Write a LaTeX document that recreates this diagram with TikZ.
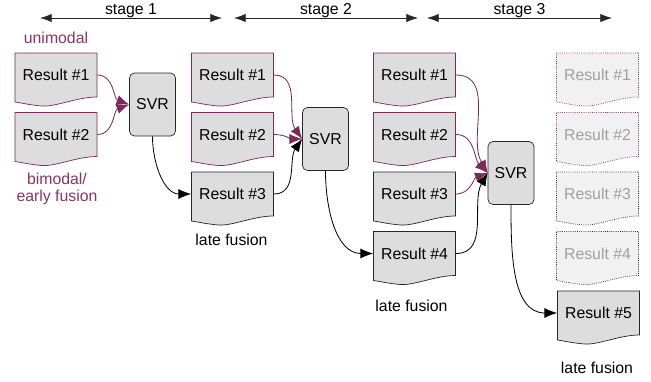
\documentclass[tikz,border=0pt]{standalone}
\usepackage{fontspec}
\setmainfont{Liberation Sans}
\usepackage{xcolor}
\usetikzlibrary{arrows.meta,calc}
\definecolor{plum}{RGB}{125,41,89}
\definecolor{plumtext}{RGB}{137,52,104}
\definecolor{docgray}{RGB}{221,221,221}
\definecolor{fadegray}{RGB}{241,241,241}
\definecolor{fadetext}{RGB}{160,160,160}
\tikzset{
  resnode/.style={minimum width=2.46cm, minimum height=1.32cm, inner sep=0pt},
  plumdoc/.style={draw=plum, fill=docgray, line width=0.6pt},
  blackdoc/.style={draw=black!85, fill=docgray, line width=0.6pt},
  fadeplum/.style={draw=plum, densely dotted, fill=fadegray, text=fadetext, line width=0.6pt},
  fadeblack/.style={draw=black!85, densely dotted, fill=fadegray, text=fadetext, line width=0.6pt}
}
% document shape with a wavy bottom: name, centre, text, look
\newcommand{\resdoc}[4]{%
  \draw[#4] ($(#2)+(-41,22)$) -- ($(#2)+(41,22)$) -- ($(#2)+(41,-22)$)
    .. controls ($(#2)+(21,-22)$) and ($(#2)+(0,-32)$) .. ($(#2)+(-14,-31)$)
    .. controls ($(#2)+(-26,-30)$) and ($(#2)+(-34,-28)$) .. ($(#2)+(-41,-27)$) -- cycle;
  \node[resnode, #4, draw=none, fill=none] (#1) at (#2) {#3};}

\begin{document}
\begin{tikzpicture}[x=0.03cm, y=0.03cm, font=\fontsize{13.5}{14.5}\selectfont,
    svrbox/.style={draw=black!85, fill=docgray, line width=0.6pt, rounded corners=0.15cm,
      minimum width=1.38cm, minimum height=1.89cm, inner sep=0pt},
    plumarrow/.style={draw=plum, line width=0.7pt, -{Latex[length=3.8mm,width=3mm]}},
    blackarrow/.style={draw=black, line width=0.7pt, -{Latex[length=3.8mm,width=3mm]}},
    stagearrow/.style={draw=black!85, line width=0.6pt, {Latex[length=3.5mm,width=2.5mm]}-{Latex[length=3.5mm,width=2.5mm]}},
    modelabel/.style={text=plumtext, align=center}]
    \useasboundingbox (0,0) rectangle (651,-381);

    % stages
    \coordinate (st1l) at (40,-18);
    \coordinate (st1r) at (222,-18);
    \coordinate (st2l) at (234,-18);
    \coordinate (st2r) at (418,-18);
    \coordinate (st3l) at (427,-18);
    \coordinate (st3r) at (612,-18);
    \draw[stagearrow] (st1l) -- node[above, inner sep=0pt]{stage 1} (st1r);
    \draw[stagearrow] (st2l) -- node[above, inner sep=0pt]{stage 2} (st2r);
    \draw[stagearrow] (st3l) -- node[above, inner sep=0pt]{stage 3} (st3r);

    % stage 1
    \resdoc{a1}{56,-75}{Result \#1}{plumdoc}
    \resdoc{a2}{56,-134.5}{Result \#2}{plumdoc}
    \node[modelabel](uni) at (56,-38){unimodal};
    \node[modelabel](bim) at (57,-188.5){bimodal/\\early fusion};
    \node[svrbox](svr1) at (152.5,-104.5){SVR};

    % stage 2
    \resdoc{b1}{232.5,-75}{Result \#1}{plumdoc}
    \resdoc{b2}{232.5,-134.5}{Result \#2}{plumdoc}
    \resdoc{b3}{232.5,-194}{Result \#3}{blackdoc}
    \node(late1) at (231.5,-240){late fusion};
    \node[svrbox](svr2) at (325.5,-139){SVR};

    % stage 3
    \resdoc{c1}{414.5,-75}{Result \#1}{plumdoc}
    \resdoc{c2}{414.5,-134.5}{Result \#2}{plumdoc}
    \resdoc{c3}{414.5,-194}{Result \#3}{blackdoc}
    \resdoc{c4}{414.5,-253.5}{Result \#4}{blackdoc}
    \node(late2) at (411.5,-306){late fusion};
    \node[svrbox](svr3) at (511,-173){SVR};

    % output
    \resdoc{d1}{597.5,-75}{Result \#1}{fadeplum}
    \resdoc{d2}{597.5,-134.5}{Result \#2}{fadeplum}
    \resdoc{d3}{597.5,-194}{Result \#3}{fadeblack}
    \resdoc{d4}{597.5,-253.5}{Result \#4}{fadeblack}
    \resdoc{d5}{598.5,-313}{Result \#5}{blackdoc}
    \node(late3) at (597,-368){late fusion};

    \path
    (a1.east) edge[plumarrow, out=0, in=160] (svr1.west)
    (a2.east) edge[plumarrow, out=0, in=200] (svr1.west)
    (svr1.south) edge[blackarrow, out=-90, in=180] (b3.west)
    (b1.east) edge[plumarrow, out=0, in=125] (svr2.west)
    (b2.east) edge[plumarrow, out=0, in=180] (svr2.west)
    (b3.east) edge[blackarrow, out=0, in=235] (svr2.west)
    (svr2.south) edge[blackarrow, out=-90, in=180] (c4.west)
    (c1.east) edge[plumarrow, out=0, in=120] (svr3.west)
    (c2.east) edge[plumarrow, out=0, in=135] (svr3.west)
    (c3.east) edge[plumarrow, out=0, in=200] (svr3.west)
    (c4.east) edge[blackarrow, out=0, in=240] (svr3.west)
    (svr3.south) edge[blackarrow, out=-90, in=180] (d5.west)
    ;
\end{tikzpicture}
\end{document}
